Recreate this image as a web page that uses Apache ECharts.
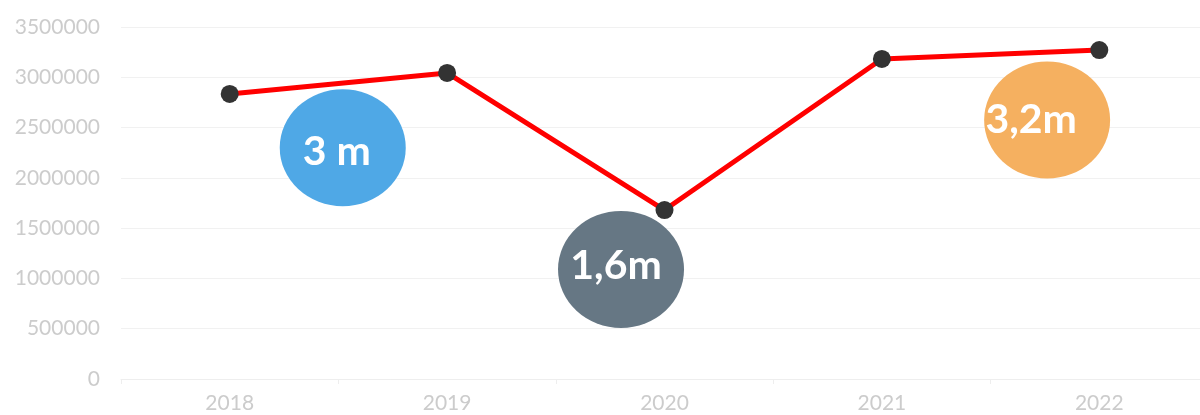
<!DOCTYPE html>
<html>
<head>
<meta charset="utf-8">
<script src="https://cdn.jsdelivr.net/npm/echarts@6/dist/echarts.min.js"></script>
<style>
  html, body { margin: 0; padding: 0; background: #fff; }
  #chart { width: 1200px; height: 415px; }
</style>
</head>
<body>
<div id="chart"></div>
<script>
const years = ["2018", "2019", "2020", "2021", "2022"];
const values = [2834000, 3043000, 1680000, 3182000, 3271000];

// annotation bubbles: position on category scale (0..4), value, label, colour
const bubbleX = [0.52, 1.8, 3.76];
const bubbleY = [2300000, 1090000, 2575000];
const bubbleLabels = ["3 m", "1,6m", "3,2m"];
const bubbleColors = ["#4fa8e6", "#667784", "#f5b060"];
const bubbleLabelShift = [[-6, 4], [-5, -4], [-16, 0]];

const chart = echarts.init(document.getElementById("chart"));

const option = {
  animation: false,
  textStyle: { fontFamily: "Lato" },
  grid: { left: 121, width: 1087, top: 27, bottom: 36, outerBoundsMode: "none", containLabel: false },
  xAxis: [
    {
      type: "category",
      data: years,
      boundaryGap: true,
      axisLine: { lineStyle: { color: "#eeeeee", width: 1 } },
      axisTick: { show: true, length: 5, lineStyle: { color: "#eeeeee" } },
      axisLabel: { color: "#cccccc", fontSize: 21, margin: 14, fontFamily: "Lato" },
      splitLine: { show: false }
    },
    {
      type: "value",
      min: -0.5,
      max: 4.5,
      show: false
    }
  ],
  yAxis: {
    type: "value",
    min: 0,
    max: 3500000,
    interval: 500000,
    axisLine: { show: false },
    axisTick: { show: false },
    axisLabel: {
      color: "#cccccc",
      fontSize: 21,
      margin: 21,
      fontFamily: "Lato",
      formatter: (v) => String(v)
    },
    splitLine: { lineStyle: { color: "#f1f1f1", width: 1 } }
  },
  series: [
    {
      type: "scatter",
      xAxisIndex: 1,
      z: 1,
      symbol: "circle",
      data: bubbleX.map((x, i) => ({
        value: [x, bubbleY[i]],
        symbolSize: [126, 117],
        itemStyle: { color: bubbleColors[i], opacity: 1 },
        label: {
          show: true,
          position: "inside",
          formatter: bubbleLabels[i],
          offset: bubbleLabelShift[i],
          color: "#ffffff",
          fontSize: 41,
          fontWeight: "bold",
          fontFamily: "Lato"
        }
      }))
    },
    {
      type: "line",
      z: 3,
      data: values,
      symbol: "circle",
      symbolSize: 18,
      lineStyle: { color: "#ff0000", width: 5 },
      itemStyle: { color: "#333333" }
    }
  ]
};

chart.setOption(option);
</script>
</body>
</html>
